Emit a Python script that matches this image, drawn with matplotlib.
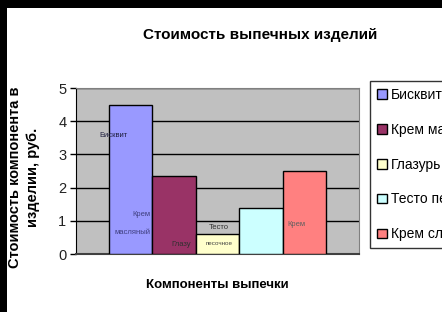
import matplotlib
matplotlib.use("Agg")
import matplotlib.pyplot as plt
from matplotlib.patches import Rectangle

plt.rcParams['font.family'] = ['Liberation Sans', 'DejaVu Sans']

series = ["Бисквит", "Крем масляный", "Глазурь", "Тесто песочное", "Крем сливочный"]
values = [4.5, 2.35, 0.6, 1.4, 2.5]
colors = ["#9999FF", "#993366", "#FFFFCC", "#CCFFFF", "#FF8080"]
yticks = [0, 1, 2, 3, 4, 5]
title = "Стоимость выпечных изделий"
xlabel = "Компоненты выпечки"
ylabel = "Стоимость компонента в\nизделии, руб."

W, H = 442, 312
fig = plt.figure(figsize=(W / 100, H / 100), dpi=100)
fig.patch.set_facecolor("white")

# black frame remnants (top and left)
fig.add_artist(Rectangle((0, 1 - 8 / H), 1, 8 / H, transform=fig.transFigure,
                         facecolor="black", edgecolor="none", zorder=10))
fig.add_artist(Rectangle((0, 0), 7 / W, 1, transform=fig.transFigure,
                         facecolor="black", edgecolor="none", zorder=10))

ax = fig.add_axes([76 / W, (H - 254) / H, (359 - 76) / W, (254 - 88) / H])
ax.set_facecolor("#C0C0C0")
ax.set_xlim(-0.5, 0.5)
ax.set_ylim(0, 5)
ax.set_yticks(yticks)
ax.set_yticklabels([str(t) for t in yticks], fontsize=10.5)
ax.set_xticks([])
ax.yaxis.grid(True, color="black", linewidth=1.0)
ax.set_axisbelow(True)
for s in ["top", "right"]:
    ax.spines[s].set_color("#808080")
    ax.spines[s].set_linewidth(0.8)
ax.spines["left"].set_color("black")
ax.spines["bottom"].set_color("#404040")
ax.spines["bottom"].set_linewidth(1.5)
ax.tick_params(axis="y", length=4, width=1, color="black", pad=3, labelcolor="#222222")

n = len(series)
bw = 0.1535
offsets = [(i - (n - 1) / 2) * bw for i in range(n)]
handles = []
for i in range(n):
    b = ax.bar(offsets[i], values[i], width=bw, color=colors[i],
               edgecolor="black", linewidth=1.0, label=series[i], zorder=3)
    handles.append(b)

# data labels (series names, as in the original)
lab_kw = dict(ha="center", va="center", fontsize=5.5, zorder=5)
ax.text(-0.366, 3.58, "Бисквит", color="#202040", **lab_kw)
ax.text(-0.27, 1.2, "Крем", color="#404080", **lab_kw)
ax.text(-0.30, 0.66, "масляный", color="#404080", **lab_kw)
ax.text(-0.129, 0.3, "Глазу", color="#303030", **lab_kw)
ax.text(0.005, 0.81, "Тесто", color="#303030", **lab_kw)
ax.text(0.005, 0.33, "песочное", color="#404040", fontsize=4.5, ha="center", va="center", zorder=5)
ax.text(0.28, 0.9, "Крем", color="#606060", **lab_kw)

fig.text(260 / W, 1 - 35 / H, title, ha="center", va="center",
         fontsize=11, fontweight="bold")
fig.text(217 / W, 1 - 285 / H, xlabel, ha="center", va="center",
         fontsize=9.5, fontweight="bold")
fig.text(24 / W, 1 - 177 / H, ylabel, ha="center", va="center",
         fontsize=10.5, fontweight="bold", rotation=90, linespacing=1.45)

leg = fig.legend(handles=handles, labels=series, loc="upper left",
                 bbox_to_anchor=(370 / W, 1 - 81 / H), fontsize=10,
                 frameon=True, fancybox=False, edgecolor="black",
                 handlelength=0.7, handleheight=0.7, handletextpad=0.3,
                 labelspacing=1.5, borderpad=0.5, borderaxespad=0)
leg.get_frame().set_linewidth(1.0)

fig.savefig("out.png", dpi=100)
